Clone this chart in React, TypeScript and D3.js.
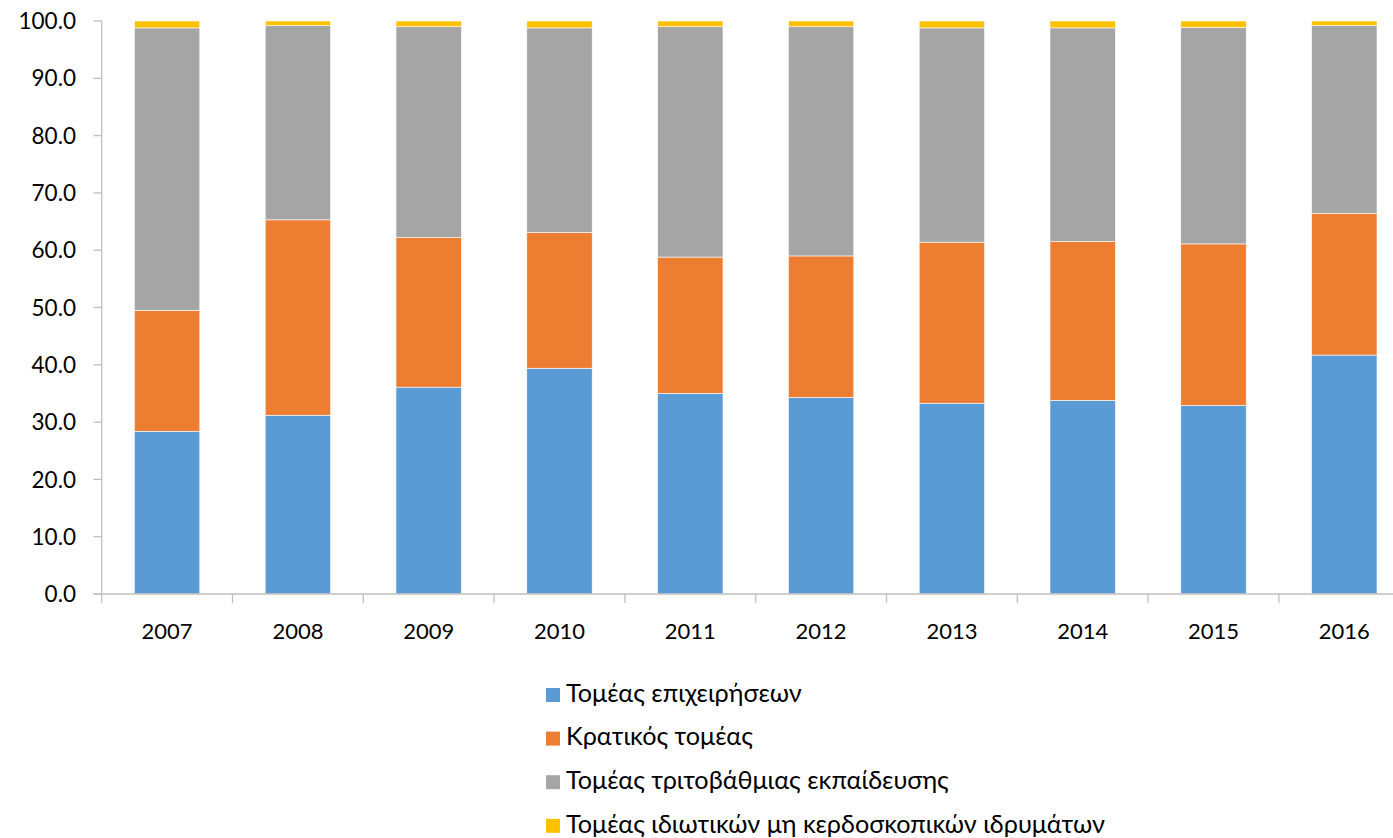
import React from "react";
import * as d3 from "d3";

const years = ["2007", "2008", "2009", "2010", "2011", "2012", "2013", "2014", "2015", "2016"];
const seriesNames = [
  "Τομέας επιχειρήσεων",
  "Κρατικός τομέας",
  "Τομέας τριτοβάθμιας εκπαίδευσης",
  "Τομέας ιδιωτικών μη κερδοσκοπικών ιδρυμάτων",
];
const business = [28.4, 31.2, 36.1, 39.4, 35.0, 34.3, 33.3, 33.8, 32.9, 41.7];
const government = [21.1, 34.1, 26.1, 23.7, 23.8, 24.7, 28.1, 27.7, 28.2, 24.7];
const higherEd = [49.3, 33.9, 36.8, 35.7, 40.2, 40.0, 37.4, 37.3, 37.8, 32.8];
const privateNP = [1.2, 0.8, 1.0, 1.2, 1.0, 1.0, 1.2, 1.2, 1.1, 0.8];
const yTicks = [0, 10, 20, 30, 40, 50, 60, 70, 80, 90, 100];
const colors = ["#5B9BD5", "#ED7D31", "#A5A5A5", "#FFC000"];

const W = 1393;
const H = 838;

export default function App() {
  const keys = ["b", "g", "h", "p"];
  const rows = years.map((yr, i) => ({
    year: yr,
    b: business[i],
    g: government[i],
    h: higherEd[i],
    p: privateNP[i],
  }));
  const stacked = d3.stack<any>().keys(keys)(rows);

  const x = d3.scaleBand<string>().domain(years).range([101.7, 101.7 + 10 * 130.8]).padding(0);
  const y = d3.scaleLinear().domain([0, 100]).range([594, 21]);
  const bw = x.bandwidth();
  const barW = bw * 0.5;
  const axisColor = "#BFBFBF";
  const numFont = "Lato, 'Noto Sans', sans-serif";

  const tickXs = [...years.map((yr) => x(yr) as number), (x(years[years.length - 1]) as number) + bw];

  return (
    <svg
      width={W}
      height={H}
      style={{ position: "absolute", left: 0, top: 0, background: "#fff" }}
    >
      <rect x={0} y={0} width={W} height={H} fill="#fff" />
      {stacked.map((s, si) => (
        <g key={si} fill={colors[si]}>
          {s.map((d, i) => (
            <rect
              key={i}
              x={(x(years[i]) as number) + (bw - barW) / 2}
              y={y(d[1])}
              width={barW}
              height={y(d[0]) - y(d[1])}
              stroke="#ffffff"
              strokeWidth={0.6}
            />
          ))}
        </g>
      ))}
      {/* y axis */}
      <line x1={101.7} x2={101.7} y1={y(100)} y2={y(0)} stroke={axisColor} strokeWidth={1.3} />
      {yTicks.map((t) => (
        <g key={t}>
          <line x1={93.5} x2={101.7} y1={y(t)} y2={y(t)} stroke={axisColor} strokeWidth={1.3} />
          <text
            x={76}
            y={y(t)}
            dy="0.36em"
            textAnchor="end"
            fontFamily={numFont}
            fontSize={22.5}
            fill="#000"
          >
            {d3.format(".1f")(t)}
          </text>
        </g>
      ))}
      {/* x axis */}
      <line x1={93.5} x2={W} y1={y(0)} y2={y(0)} stroke={axisColor} strokeWidth={1.3} />
      {tickXs.map((tx, i) => (
        <line key={i} x1={tx} x2={tx} y1={y(0)} y2={y(0) + 9} stroke={axisColor} strokeWidth={1.3} />
      ))}
      {years.map((yr) => (
        <text
          key={yr}
          x={(x(yr) as number) + bw / 2}
          y={639}
          textAnchor="middle"
          fontFamily={numFont}
          fontSize={22}
          fill="#000"
        >
          {yr}
        </text>
      ))}
      {/* legend */}
      {seriesNames.map((name, i) => {
        const cy = 695 + i * 43.6;
        return (
          <g key={name}>
            <rect x={546} y={cy - 7} width={14} height={14} fill={colors[i]} />
            <text x={566} y={cy + 6.8} fontFamily={numFont} fontSize={25.2} fill="#000">
              {name}
            </text>
          </g>
        );
      })}
    </svg>
  );
}
